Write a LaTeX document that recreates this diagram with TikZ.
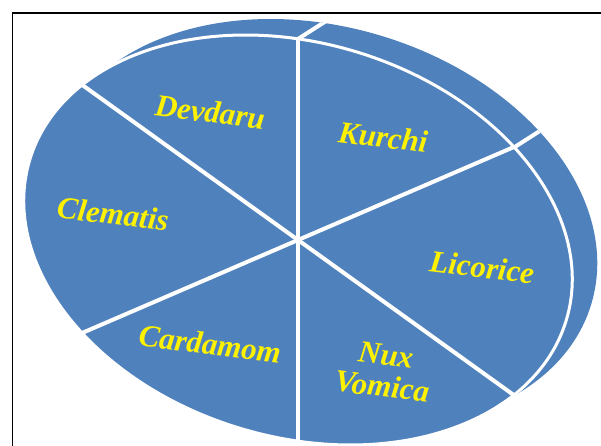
\documentclass[tikz,border=0pt]{standalone}
\usepackage{fontspec}
\setmainfont{Liberation Serif}
\definecolor{pieblue}{HTML}{4F81BD}
\tikzset{
	herb/.style={text=yellow, font=\fontsize{31}{32}\selectfont\bfseries\itshape, rotate=-7, align=center, inner sep=0pt},
	spoke/.style={white, line width=4pt},
	rim/.style={white, line width=3pt}
}
\begin{document}
\begin{tikzpicture}[x=1pt, y=1pt]
	% page: 601 x 445
	\useasboundingbox (0,0) rectangle (601,445);
	\clip (0,0) rectangle (601,445);
	% frame
	\draw[line width=1.6pt] (12.5,-20) -- (12.5,432) -- (630,432);
	% centre of the pie and where the spokes meet the rim
	\coordinate (hub) at (298,205);
	\coordinate (rimN) at (298,406);
	\coordinate (rimNE) at (514.3,297.7);
	% depth of the pie, behind
	\fill[pieblue] (323,221) ellipse [x radius=280pt, y radius=197pt, rotate=-16.5];
	\begin{scope}
		\clip (323,221) ellipse [x radius=280pt, y radius=197pt, rotate=-16.5];
		\draw[spoke] (rimN) -- ++(50,32);
		\draw[spoke] (rimNE) -- ++(50,32);
	\end{scope}
	% face of the pie
	\fill[pieblue] (hub) ellipse [x radius=280pt, y radius=197pt, rotate=-16.5];
	\begin{scope}
		\clip (hub) ellipse [x radius=280pt, y radius=197pt, rotate=-16.5];
		\draw[spoke] ([shift={(90:320)}]hub) -- ([shift={(270:320)}]hub);
		\draw[spoke] ([shift={(144.3:320)}]hub) -- ([shift={(324.3:320)}]hub);
		\draw[spoke] ([shift={(203.3:320)}]hub) -- ([shift={(23.3:320)}]hub);
	\end{scope}
	\draw[rim] (hub) ellipse [x radius=280pt, y radius=197pt, rotate=-16.5];
	% slice labels
	\node[herb] (devdaru) at (210,333) {Devdaru};
	\node[herb] (kurchi) at (383,308) {Kurchi};
	\node[herb] (clematis) at (113,231) {Clematis};
	\node[herb] (licorice) at (482,178) {Licorice};
	\node[herb] (cardamom) at (210,101) {Cardamom};
	\node[herb] (nuxvomica) at (384,74) {Nux\\Vomica};
\end{tikzpicture}
\end{document}
